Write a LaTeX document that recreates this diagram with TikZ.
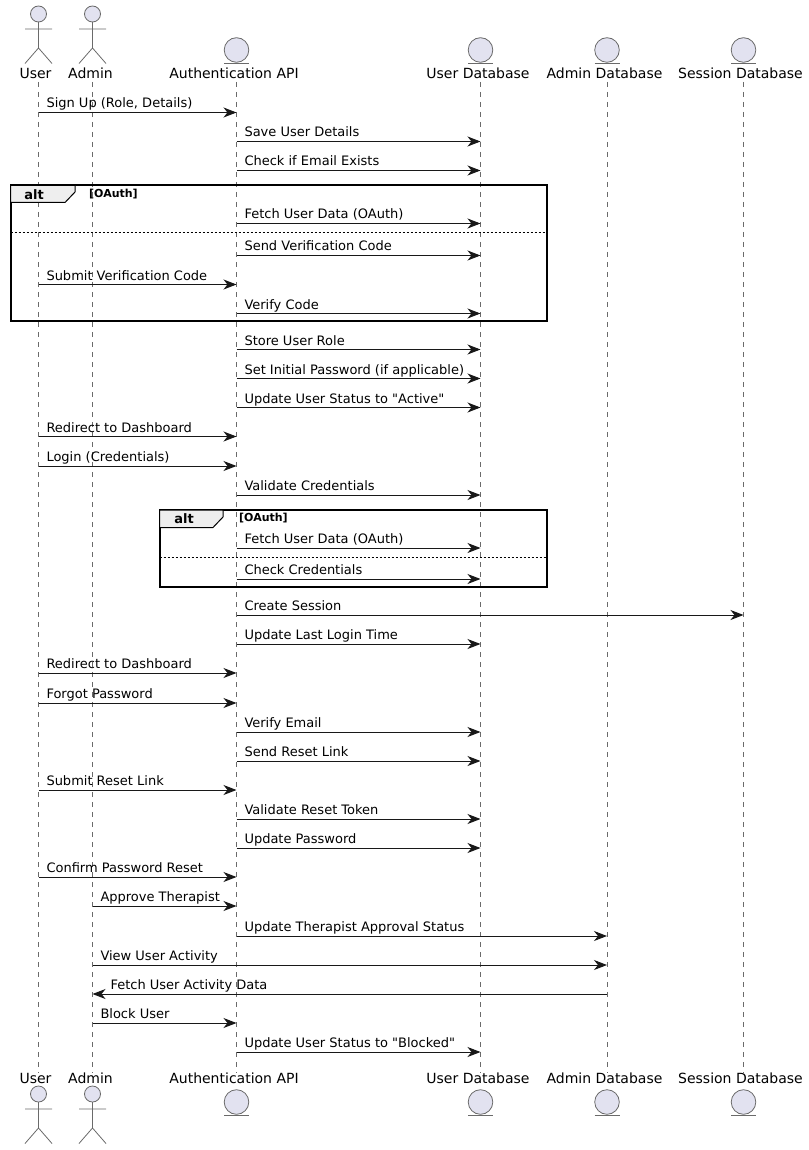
\documentclass[tikz,border=0pt]{standalone}
\usepackage{fontspec}
\setmainfont{DejaVu Sans}
\newfontfamily\msgfont{DejaVu Sans}
\usetikzlibrary{arrows.meta}
\definecolor{partfill}{HTML}{E2E2F0}
\definecolor{tabfill}{HTML}{EEEEEE}
\definecolor{ink}{HTML}{181818}
\definecolor{thinink}{HTML}{6A6A6A}
\tikzset{
  part/.style={font=\fontsize{14}{16}\selectfont,inner sep=0pt,text=black},
  lifeline/.style={draw=thinink,line width=0.6pt,dash pattern=on 5pt off 5pt},
  thin line/.style={draw=thinink,line width=0.8pt},
  msg/.style={draw=ink,line width=1pt,-{Stealth[length=13pt,width=10pt,inset=4pt]}},
  msgtext/.style={font=\msgfont\fontsize{13}{15}\selectfont,inner sep=0pt,text=black,anchor=base west,xshift=7.5pt,yshift=4.5pt},
  backtext/.style={msgtext,xshift=10pt},
  altframe/.style={draw=black,line width=2pt,anchor=north west,inner sep=0pt,outer sep=0pt},
  alttab/.style={draw=black,line width=1pt,fill=tabfill},
  altname/.style={font=\fontsize{13}{15}\selectfont\bfseries,inner sep=0pt,text=black},
  altguard/.style={font=\fontsize{11}{13}\selectfont\bfseries,inner sep=0pt,text=black,anchor=west},
  altsplit/.style={draw=black,line width=0.8pt,dash pattern=on 2pt off 2pt},
  actor/.pic={
    \draw[thin line,fill=partfill] (0,0) circle (8);
    \draw[thin line] (0,8) -- (0,34) (-13.5,15) -- (13.5,15)
      (-13.5,49.5) -- (0,34) -- (13.5,49.5);
  },
  entity/.pic={
    \draw[thin line,fill=partfill] (0,0) circle (12.3);
    \draw[thin line] (-12.5,13.5) -- (12.5,13.5);
  },
}
\begin{document}
\begin{tikzpicture}[x=1pt,y=-1pt]
  \useasboundingbox (0,0) rectangle (808,1150);

  % top row
  \node[part] (user)    at (35.5,73)  {User};
  \node[part] (admin)   at (90.5,73)  {Admin};
  \node[part] (auth)    at (234,73)   {Authentication API};
  \node[part] (userdb)  at (478,73)   {User Database};
  \node[part] (admindb) at (604.5,73) {Admin Database};
  \node[part] (sessdb)  at (740.5,73) {Session Database};
  % bottom row
  \node[part] (userB)    at (35.5,1078)  {User};
  \node[part] (adminB)   at (90.5,1078)  {Admin};
  \node[part] (authB)    at (234,1078)   {Authentication API};
  \node[part] (userdbB)  at (478,1078)   {User Database};
  \node[part] (admindbB) at (604.5,1078) {Admin Database};
  \node[part] (sessdbB)  at (740.5,1078) {Session Database};

  % lanes
  \coordinate (laneU) at (38.5,82);
  \coordinate (laneA) at (92.5,82);
  \coordinate (laneI) at (236.5,82);
  \coordinate (laneD) at (480.5,82);
  \coordinate (laneM) at (607,82);
  \coordinate (laneS) at (743.5,82);
  \draw[lifeline] (laneU) -- (laneU |- userB.north);
  \draw[lifeline] (laneA) -- (laneA |- adminB.north);
  \draw[lifeline] (laneI) -- (laneI |- authB.north);
  \draw[lifeline] (laneD) -- (laneD |- userdbB.north);
  \draw[lifeline] (laneM) -- (laneM |- admindbB.north);
  \draw[lifeline] (laneS) -- (laneS |- sessdbB.north);

  \pic at (38.5,14) {actor};
  \pic at (92.5,14) {actor};
  \pic at (236.5,50) {entity};
  \pic at (480.5,50) {entity};
  \pic at (607,50) {entity};
  \pic at (743.5,50) {entity};
  \pic at (38.5,1094) {actor};
  \pic at (92.5,1094) {actor};
  \pic at (236.5,1102) {entity};
  \pic at (480.5,1102) {entity};
  \pic at (607,1102) {entity};
  \pic at (743.5,1102) {entity};

  % alt blocks
  \node[altframe,minimum width=536pt,minimum height=135.5pt] (altA) at (10.5,185.5) {};
  \draw[alttab] (10.5,185.5) -- (75,185.5) -- (75,192) -- (65,202.5) -- (10.5,202.5) -- cycle;
  \node[altname]  (altAname)  at (34,195)  {alt};
  \node[altguard] (altAguard) at (89,194)  {[OAuth]};
  \draw[altsplit] (altA.west |- 0,232) -- (altA.east |- 0,232);

  \node[altframe,minimum width=387pt,minimum height=77pt] (altB) at (159.5,510) {};
  \draw[alttab] (159.5,510) -- (223,510) -- (223,517) -- (213,527.5) -- (159.5,527.5) -- cycle;
  \node[altname]  (altBname)  at (184,519) {alt};
  \node[altguard] (altBguard) at (239,518) {[OAuth]};
  \draw[altsplit] (altB.west |- 0,557.5) -- (altB.east |- 0,557.5);

  % messages
  \path[every edge/.style={msg}]
    (laneU |- 0,112.5) edge node[pos=0,msgtext] (m1) {Sign Up (Role, Details)} (laneI |- 0,112.5)
    (laneI |- 0,141.5) edge node[pos=0,msgtext] (m2) {Save User Details} (laneD |- 0,141.5)
    (laneI |- 0,170.5) edge node[pos=0,msgtext] (m3) {Check if Email Exists} (laneD |- 0,170.5)
    (laneI |- 0,223.5) edge node[pos=0,msgtext] (m4) {Fetch User Data (OAuth)} (laneD |- 0,223.5)
    (laneI |- 0,255.5) edge node[pos=0,msgtext] (m5) {Send Verification Code} (laneD |- 0,255.5)
    (laneU |- 0,284.5) edge node[pos=0,msgtext] (m6) {Submit Verification Code} (laneI |- 0,284.5)
    (laneI |- 0,313.5) edge node[pos=0,msgtext] (m7) {Verify Code} (laneD |- 0,313.5)
    (laneI |- 0,349.5) edge node[pos=0,msgtext] (m8) {Store User Role} (laneD |- 0,349.5)
    (laneI |- 0,378.5) edge node[pos=0,msgtext] (m9) {Set Initial Password (if applicable)} (laneD |- 0,378.5)
    (laneI |- 0,407.5) edge node[pos=0,msgtext] (m10) {Update User Status to "Active"} (laneD |- 0,407.5)
    (laneU |- 0,436.5) edge node[pos=0,msgtext] (m11) {Redirect to Dashboard} (laneI |- 0,436.5)
    (laneU |- 0,466) edge node[pos=0,msgtext] (m12) {Login (Credentials)} (laneI |- 0,466)
    (laneI |- 0,495) edge node[pos=0,msgtext] (m13) {Validate Credentials} (laneD |- 0,495)
    (laneI |- 0,548) edge node[pos=0,msgtext] (m14) {Fetch User Data (OAuth)} (laneD |- 0,548)
    (laneI |- 0,579) edge node[pos=0,msgtext] (m15) {Check Credentials} (laneD |- 0,579)
    (laneI |- 0,615) edge node[pos=0,msgtext] (m16) {Create Session} (laneS |- 0,615)
    (laneI |- 0,644) edge node[pos=0,msgtext] (m17) {Update Last Login Time} (laneD |- 0,644)
    (laneU |- 0,673) edge node[pos=0,msgtext] (m18) {Redirect to Dashboard} (laneI |- 0,673)
    (laneU |- 0,703) edge node[pos=0,msgtext] (m19) {Forgot Password} (laneI |- 0,703)
    (laneI |- 0,732) edge node[pos=0,msgtext] (m20) {Verify Email} (laneD |- 0,732)
    (laneI |- 0,761) edge node[pos=0,msgtext] (m21) {Send Reset Link} (laneD |- 0,761)
    (laneU |- 0,790) edge node[pos=0,msgtext] (m22) {Submit Reset Link} (laneI |- 0,790)
    (laneI |- 0,819) edge node[pos=0,msgtext] (m23) {Validate Reset Token} (laneD |- 0,819)
    (laneI |- 0,848) edge node[pos=0,msgtext] (m24) {Update Password} (laneD |- 0,848)
    (laneU |- 0,877) edge node[pos=0,msgtext] (m25) {Confirm Password Reset} (laneI |- 0,877)
    (laneA |- 0,906) edge node[pos=0,msgtext] (m26) {Approve Therapist} (laneI |- 0,906)
    (laneI |- 0,936) edge node[pos=0,msgtext] (m27) {Update Therapist Approval Status} (laneM |- 0,936)
    (laneA |- 0,965) edge node[pos=0,msgtext] (m28) {View User Activity} (laneM |- 0,965)
    (laneM |- 0,994) edge node[pos=1,backtext] (m29) {Fetch User Activity Data} (laneA |- 0,994)
    (laneA |- 0,1023) edge node[pos=0,msgtext] (m30) {Block User} (laneI |- 0,1023)
    (laneI |- 0,1052) edge node[pos=0,msgtext] (m31) {Update User Status to "Blocked"} (laneD |- 0,1052);
\end{tikzpicture}
\end{document}
